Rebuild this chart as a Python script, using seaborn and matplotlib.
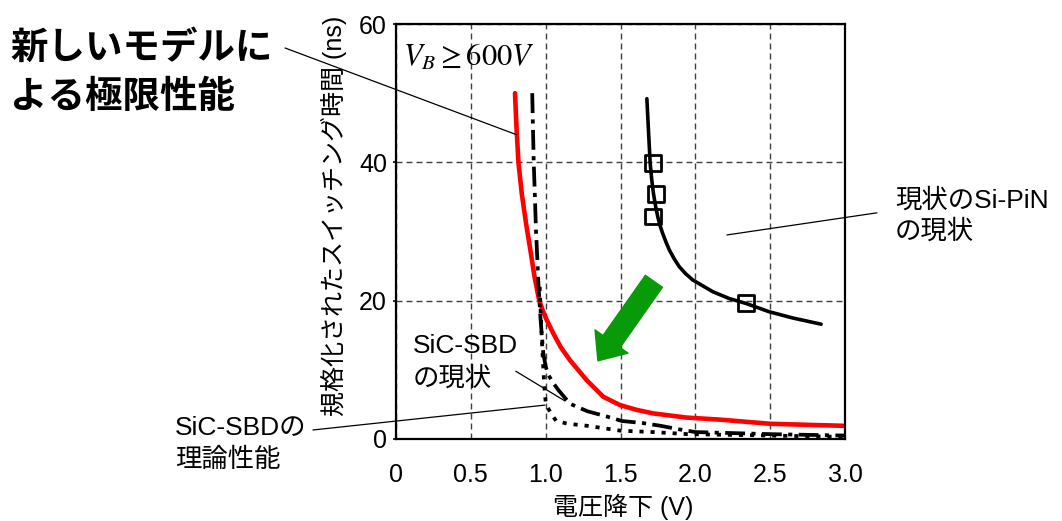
import matplotlib
matplotlib.use('Agg')
import matplotlib.pyplot as plt
import seaborn as sns

# 新しいモデルによる極限性能 (赤)
limit_v = [0.795, 0.805, 0.818, 0.84, 0.87, 0.90, 0.925, 0.945, 0.957, 0.98, 1.005,
           1.05, 1.10, 1.162, 1.274, 1.385, 1.497, 1.61, 1.719, 1.94, 2.165, 2.50, 3.00]
limit_t = [50.0, 45.0, 40.0, 35.5, 31.0, 27.0, 23.5, 21.3, 20.0, 18.6, 17.3,
           15.3, 13.3, 11.4, 8.5, 6.1, 4.9, 4.2, 3.7, 3.1, 2.8, 2.2, 1.9]

# SiC-SBDの現状 (一点鎖線)
sbd_now_v = [0.91, 0.915, 0.92, 0.928, 0.935, 0.943, 0.95, 0.958, 0.965, 0.973, 0.984,
             1.0, 1.017, 1.05, 1.084, 1.162, 1.28, 1.40, 1.51, 1.65, 1.77, 1.89,
             2.00, 2.17, 2.50, 3.00]
sbd_now_t = [50, 45, 40, 35, 30.2, 26.5, 23, 20, 17.5, 15.3, 12.4,
             10.5, 9.3, 8.1, 7.1, 5.1, 4.0, 3.3, 2.6, 2.3, 1.9, 1.4,
             1.0, 0.9, 0.7, 0.5]

# SiC-SBDの理論性能 (点線)
sbd_theory_v = [0.96, 0.967, 0.975, 0.982, 0.99, 0.997, 1.0, 1.015, 1.03, 1.07, 1.15,
                1.28, 1.50, 1.72, 1.95, 2.50, 3.00]
sbd_theory_t = [22, 18, 14, 11, 8, 6, 5.3, 4.5, 3.9, 2.6, 2.2,
                1.9, 1.2, 1.0, 0.7, 0.5, 0.3]

# 現状のSi-PiN (実線 + 測定点)
pin_v = [1.676, 1.687, 1.698, 1.708, 1.72, 1.734, 1.749, 1.765, 1.782, 1.805, 1.827,
         1.86, 1.893, 1.935, 1.982, 2.116, 2.227, 2.338, 2.493, 2.65, 2.84]
pin_t = [49.2, 44.5, 39.9, 37.6, 35.5, 33.7, 32.1, 30.8, 29.7, 28.4, 27.3,
         26.0, 24.9, 23.9, 23.0, 21.3, 20.3, 19.6, 18.4, 17.5, 16.6]
pin_pts_v = [1.716, 1.738, 1.716, 2.338]
pin_pts_t = [39.9, 35.4, 32.2, 19.7]

x_ticks = [0, 0.5, 1.0, 1.5, 2.0, 2.5, 3.0]
x_ticklabels = ['0', '0.5', '1.0', '1.5', '2.0', '2.5', '3.0']
y_ticks = [0, 20, 40, 60]

sns.set_style('white')
plt.rcParams['font.family'] = ['Liberation Sans', 'Noto Sans CJK JP']
plt.rcParams['mathtext.fontset'] = 'stix'
plt.rcParams['text.color'] = 'black'
plt.rcParams['axes.labelcolor'] = 'black'
plt.rcParams['xtick.color'] = 'black'
plt.rcParams['ytick.color'] = 'black'

fig = plt.figure(figsize=(10.62, 5.21), dpi=100)
ax = fig.add_axes([0.3729, 0.1574, 0.4228, 0.7965])

# 曲線
sns.lineplot(x=limit_v, y=limit_t, ax=ax, color='#ff0000', lw=3.3,
             sort=False, estimator=None)
sns.lineplot(x=sbd_now_v, y=sbd_now_t, ax=ax, color='black', lw=2.7,
             linestyle=(0, (5.3, 1.7, 1.1, 1.7)), sort=False, estimator=None)
sns.lineplot(x=sbd_theory_v, y=sbd_theory_t, ax=ax, color='black', lw=2.7,
             linestyle=(0, (1.1, 1.85)), sort=False, estimator=None)
sns.lineplot(x=pin_v, y=pin_t, ax=ax, color='black', lw=2.6,
             sort=False, estimator=None)
sns.scatterplot(x=pin_pts_v, y=pin_pts_t, ax=ax, marker='s', s=125,
                color='black', facecolor='none', edgecolor='black',
                linewidth=2.0, zorder=4)

ax.set_xlim(0, 3.0)
ax.set_ylim(0, 60)
ax.set_xticks(x_ticks)
ax.set_xticklabels(x_ticklabels)
ax.set_yticks(y_ticks)
ax.tick_params(axis='x', length=0, pad=17, labelsize=18)
ax.tick_params(axis='y', direction='out', length=2.5, width=1.2, pad=4, labelsize=18,
               left=True)
ax.grid(True, color='#404040', lw=1.0, linestyle=(0, (4.3, 2.9)))
ax.set_axisbelow(True)
for sp in ax.spines.values():
    sp.set_visible(True)
    sp.set_color('black')
    sp.set_linewidth(1.6)

ax.set_xlabel('電圧降下 (V)', fontsize=18)
ax.xaxis.set_label_coords(0.507, -0.1325)
ax.set_ylabel('規格化されたスイッチング時間 (ns)', fontsize=18)
ax.yaxis.set_label_coords(-0.109, 0.537)

ax.text(0.016, 0.90, r'$V_B \geq 600V$', transform=ax.transAxes, fontsize=22,
        ha='left', va='baseline')

# 緑の矢印
ax.annotate('', xy=(1.349, 11.3), xytext=(1.723, 22.8),
            arrowprops=dict(arrowstyle='simple,head_width=1.45,head_length=0.85,tail_width=0.75',
                            color='#089a08', shrinkA=0, shrinkB=0, mutation_scale=20))

# 注釈テキスト
line_kw = dict(arrowstyle='-', color='black', lw=0.9, shrinkA=0, shrinkB=0)

for txt, fy in zip(['新しいモデルに', 'よる極限性能'], [0.906, 0.812]):
    fig.text(0.0094, fy, txt, fontsize=27, fontweight='bold', ha='left', va='center')
ax.annotate('', xy=(0.805, 44), xytext=(0.2684, 0.9079), textcoords='figure fraction',
            arrowprops=line_kw, annotation_clip=False)

for txt, fy in zip(['SiC-SBDの', '理論性能'], [0.1804, 0.1171]):
    fig.text(0.1648, fy, txt, fontsize=19, ha='left', va='center')
ax.annotate('', xy=(0.995, 4.9), xytext=(0.2947, 0.1747), textcoords='figure fraction',
            arrowprops=line_kw, annotation_clip=False)

for txt, ty in zip(['SiC-SBD', 'の現状'], [13.4, 8.8]):
    ax.text(0.114, ty, txt, fontsize=19, ha='left', va='center')
ax.annotate('', xy=(1.129, 5.5), xytext=(0.80, 9.8), arrowprops=line_kw)

for txt, fy in zip(['現状のSi-PiN', 'の現状'], [0.616, 0.555]):
    fig.text(0.8427, fy, txt, fontsize=19, ha='left', va='center')
ax.annotate('', xy=(3.213, 32.7), xytext=(2.211, 29.5), arrowprops=line_kw,
            annotation_clip=False)

fig.savefig('out.png', dpi=100)
